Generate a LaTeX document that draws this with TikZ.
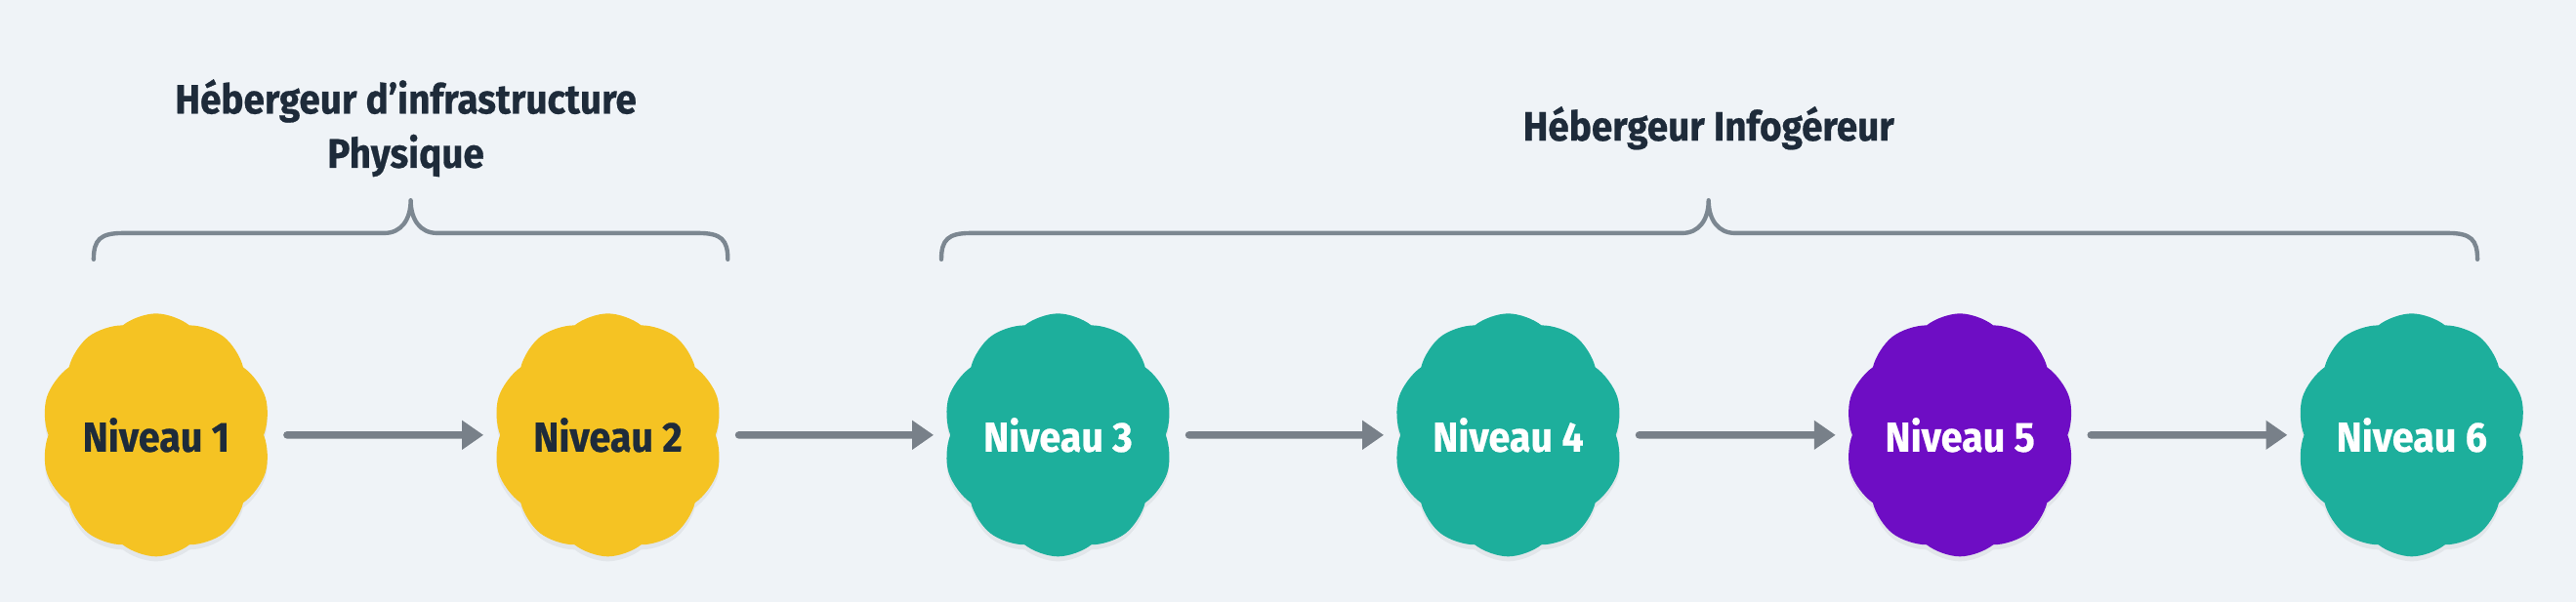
\documentclass[tikz,border=0pt]{standalone}
\usepackage{fontspec}
\newfontfamily\dinfont[FakeStretch=0.92, BoldFeatures={FakeBold=0.6}]{Fira Sans}
\usetikzlibrary{shapes.symbols,arrows.meta,shadows}
\definecolor{bgc}{RGB}{239,243,247}
\definecolor{yel}{RGB}{245,195,35}
\definecolor{teal}{RGB}{29,175,156}
\definecolor{purp}{RGB}{110,13,196}
\definecolor{ink}{RGB}{30,43,58}
\definecolor{arr}{RGB}{120,128,137}
\definecolor{brc}{RGB}{124,135,145}
\tikzset{
  lvl/.style={cloud, cloud puffs=10, cloud puff arc=78, aspect=0.93,
    minimum width=140pt, minimum height=148pt, inner sep=0pt,
    draw=none, fill=#1, font=\dinfont\bfseries\fontsize{25.5}{30}\selectfont,
    drop shadow={shadow xshift=0pt, shadow yshift=-3pt, opacity=0.05, fill=black}},
  flow/.style={draw=arr, line width=4.5pt, line cap=round,
    -{Triangle[length=13pt, width=17pt]}, shorten <=14pt, shorten >=10pt},
  brace/.style={draw=brc, line width=2.6pt, line cap=round, line join=round},
  ttl/.style={text=ink, font=\dinfont\bfseries\fontsize{25}{33}\selectfont, align=center}
}
\begin{document}
\begin{tikzpicture}[x=1pt,y=1pt]
\fill[bgc] (0,0) rectangle (1568,367);
\useasboundingbox (0,0) rectangle (1568,367);
% clouds
\node[lvl=yel, text=ink] (n1) at (95,102) {Niveau 1};
\node[lvl=yel, text=ink] (n2) at (370,102) {Niveau 2};
\node[lvl=teal, text=white] (n3) at (644,102) {Niveau 3};
\node[lvl=teal, text=white] (n4) at (918,102) {Niveau 4};
\node[lvl=purp, text=white] (n5) at (1193,102) {Niveau 5};
\node[lvl=teal, text=white] (n6) at (1468,102) {Niveau 6};
% arrows
\draw[flow] (n1) -- (n2);
\draw[flow] (n2) -- (n3);
\draw[flow] (n3) -- (n4);
\draw[flow] (n4) -- (n5);
\draw[flow] (n5) -- (n6);
% titles
\node[ttl] (t1) at (247,289) {Hébergeur d’infrastructure\\Physique};
\node[ttl] (t2) at (1040,289) {Hébergeur Infogéreur};
% braces
\coordinate (b1l) at (57,209);
\coordinate (b1t) at (250,245);
\coordinate (b1r) at (443,209);
\draw[brace] (b1l) .. controls ++(0,12) and ++(-14,0) .. ++(18,16)
  -- ([xshift=-16pt,yshift=-20pt]b1t) .. controls ++(10,0) and ++(0,-12) .. (b1t)
  .. controls ++(0,-12) and ++(-10,0) .. ([xshift=16pt,yshift=-20pt]b1t)
  -- ([xshift=-18pt,yshift=16pt]b1r) .. controls ++(14,0) and ++(0,12) .. (b1r);
\coordinate (b2l) at (573,209);
\coordinate (b2t) at (1040,245);
\coordinate (b2r) at (1508,209);
\draw[brace] (b2l) .. controls ++(0,12) and ++(-14,0) .. ++(18,16)
  -- ([xshift=-16pt,yshift=-20pt]b2t) .. controls ++(10,0) and ++(0,-12) .. (b2t)
  .. controls ++(0,-12) and ++(-10,0) .. ([xshift=16pt,yshift=-20pt]b2t)
  -- ([xshift=-18pt,yshift=16pt]b2r) .. controls ++(14,0) and ++(0,12) .. (b2r);
\end{tikzpicture}
\end{document}
